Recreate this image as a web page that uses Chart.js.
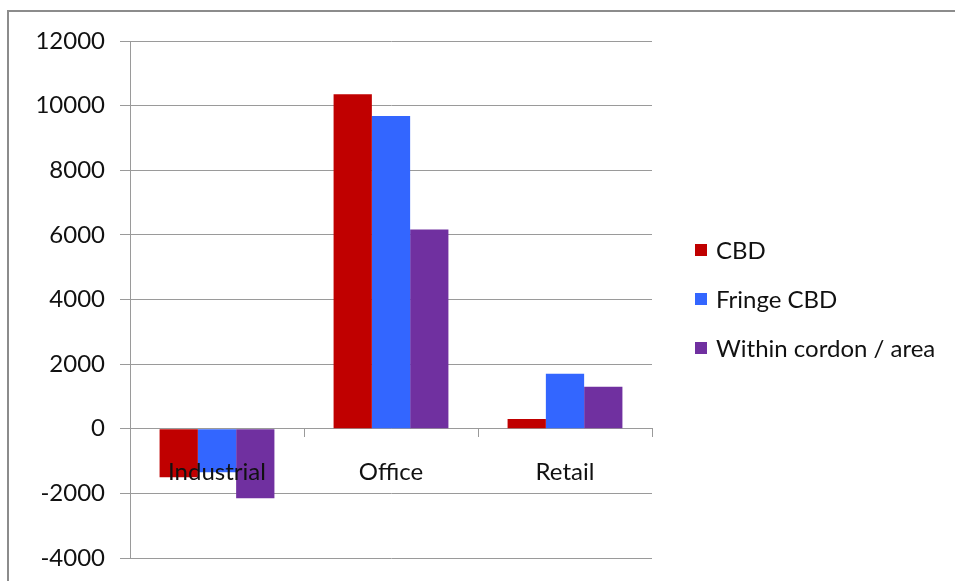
<!DOCTYPE html>
<html>
<head>
<meta charset="utf-8">
<script src="https://cdn.jsdelivr.net/npm/chart.js@4.4.1/dist/chart.umd.min.js"></script>
<style>
  html, body { margin: 0; overflow: hidden; background: #fff; }
  body { width: 955px; height: 581px; position: relative; font-family: Lato, sans-serif; }
  #marco { position: absolute; left: 7px; top: 10px; width: 1000px; height: 640px; border: 2px solid #8c8c8c; }
  #lienzo { position: absolute; left: 0; top: 0; }
  #leyenda { position: absolute; left: 695px; top: 225px; }
  .item { display: flex; align-items: center; height: 49px; font-size: 24px; color: #111; white-space: nowrap; }
  .caja { width: 12px; height: 12px; margin-right: 9px; }
</style>
</head>
<body>
<div id="marco"></div>
<canvas id="lienzo" width="955" height="581"></canvas>
<div id="leyenda"></div>
<script>
// datos
const categorias = ["Industrial", "Office", "Retail"];
const series = ["CBD", "Fringe CBD", "Within cordon / area"];
const cbd = [-1500, 10350, 300];
const fringeCbd = [-1350, 9680, 1700];
const cordon = [-2150, 6170, 1300];
const marcasY = [-4000, -2000, 0, 2000, 4000, 6000, 8000, 10000, 12000];

const colores = ["#c00000", "#3366ff", "#7030a0"];
const gris = "#9a9a9a";
const fuente = { family: "Lato, sans-serif", size: 24 };

// quita el margen extra que cada eje pide arriba y abajo
function sinRelleno(s) {
    s.paddingTop = 0;
    s.paddingBottom = 0;
}

const ctx = document.getElementById("lienzo").getContext("2d");

const grafico = new Chart(ctx, {
    type: "bar",
    data: {
        labels: categorias,
        datasets: [cbd, fringeCbd, cordon].map((valores, i) => ({
            label: series[i],
            data: valores,
            backgroundColor: colores[i],
            borderWidth: 0,
            categoryPercentage: 0.66,
            barPercentage: 1
        }))
    },
    options: {
        responsive: false,
        animation: false,
        layout: { padding: { left: 0, top: 41, right: 303, bottom: 23 } },
        plugins: {
            legend: { display: false },
            tooltip: { enabled: false }
        },
        scales: {
            x: {
                // eje en el cero, con las etiquetas encima de las barras
                position: { y: 0 },
                afterFit: s => { s.height = 0; sinRelleno(s); },
                grid: { drawOnChartArea: false, drawTicks: true, tickLength: 8, color: gris, offset: true },
                border: { color: gris, width: 1 },
                ticks: { font: fuente, color: "#111", padding: 21, z: 1 }
            },
            y: {
                min: marcasY[0],
                max: marcasY[marcasY.length - 1],
                afterFit: s => { s.width = 130; sinRelleno(s); },
                grid: { color: gris, lineWidth: 1, tickLength: 10 },
                border: { color: gris, width: 1 },
                ticks: {
                    stepSize: marcasY[1] - marcasY[0],
                    font: fuente,
                    color: "#111",
                    padding: 15,
                    callback: v => String(v)
                }
            }
        }
    }
});

// leyenda a la derecha, armada con los datasets del grafico
const leyenda = document.getElementById("leyenda");
grafico.data.datasets.forEach(ds => {
    const fila = document.createElement("div");
    fila.className = "item";
    fila.innerHTML = `<span class="caja" style="background:${ds.backgroundColor}"></span>${ds.label}`;
    leyenda.appendChild(fila);
});
</script>
</body>
</html>
